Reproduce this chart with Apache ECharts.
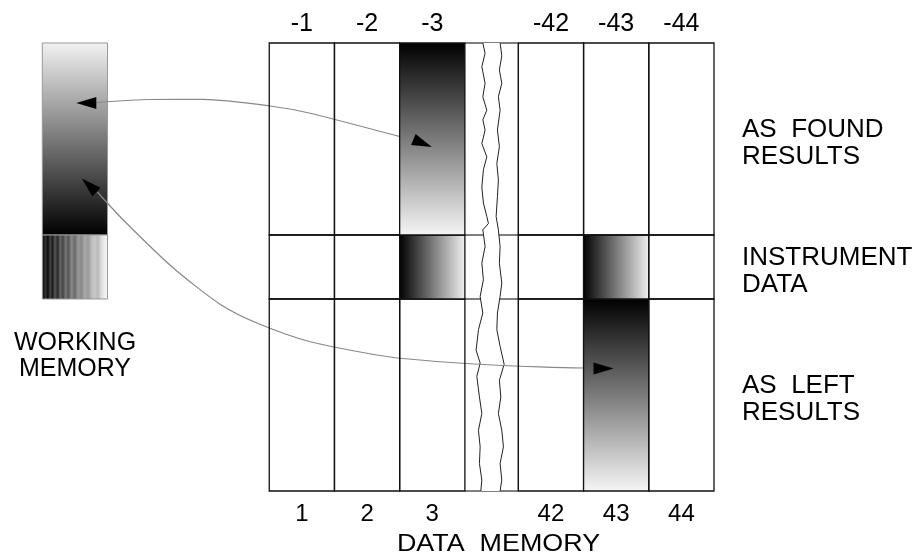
<!DOCTYPE html>
<html>
<head>
<meta charset="utf-8">
<script src="https://cdn.jsdelivr.net/npm/echarts@6/dist/echarts.min.js"></script>
<style>html,body{margin:0;padding:0;background:#fff}#c{width:920px;height:558px}</style>
</head>
<body>
<div id="c"></div>
<script>
// ---- data ----
const columnLabels = ['1', '2', '3', '42', '43', '44'];
const topColumnLabels = ['-1', '-2', '-3', '-42', '-43', '-44'];
const rowNames = ['AS  LEFT\nRESULTS', 'INSTRUMENT\nDATA', 'AS  FOUND\nRESULTS']; // bottom to top
const rowSpans = [3, 1, 3];
// shading per row (bottom to top), per column: '' none, 'down' vertical, 'right' horizontal
const asLeftShade = ['', '', '', '', 'down', ''];
const instrumentShade = ['', '', 'right', '', 'right', ''];
const asFoundShade = ['', '', 'down', '', '', ''];
const shadeRows = [asLeftShade, instrumentShade, asFoundShade];
// arrow paths in axis units
const arrowFoundPath = [[-2.651, 6.070], [-1.824, 6.117], [-1.011, 6.120], [0.015, 6.016], [0.628, 5.902], [2.008, 5.536], [2.207, 5.484]];
const arrowLeftPath = [[-2.636, 4.672], [-2.238, 4.234], [-1.471, 3.484], [-0.736, 2.906], [-0.153, 2.609], [0.644, 2.328], [1.854, 2.094], [2.912, 2.0], [4.153, 1.938], [4.812, 1.922], [4.981, 1.922]];
const arrowHeads = [[-2.805, 6.063], [2.352, 5.434], [-2.762, 4.777], [5.126, 1.914]];
const arrowHeadAngles = [90, -112, 47, -90];
// torn-edge of the break between column 3 and column 42 (axis units)
const breakLeftEdge = [[3.275,7],[3.310,6.84],[3.260,6.63],[3.310,6.37],[3.275,6.16],[3.336,5.95],[3.275,5.80],[3.310,5.64],[3.260,5.43],[3.336,5.22],[3.284,5.02],[3.260,4.75],[3.284,4.50],[3.336,4.29],[3.361,4.18],[3.275,4.08],[3.310,3.82],[3.260,3.56],[3.284,3.30],[3.234,3.04],[3.275,2.78],[3.208,2.52],[3.172,2.20],[3.234,2.00],[3.183,1.79],[3.223,1.47],[3.260,1.21],[3.208,0.95],[3.234,0.69],[3.223,0.43],[3.260,0.17],[3.244,0]];
const breakRightEdge = [[3.540,7],[3.566,6.80],[3.529,6.58],[3.566,6.37],[3.514,6.16],[3.540,5.95],[3.499,5.64],[3.529,5.38],[3.490,5.12],[3.514,4.86],[3.499,4.60],[3.479,4.29],[3.514,4.08],[3.540,3.82],[3.529,3.56],[3.566,3.25],[3.540,3.04],[3.499,2.78],[3.490,2.52],[3.540,2.26],[3.602,1.98],[3.529,1.73],[3.551,1.47],[3.514,1.21],[3.566,0.95],[3.591,0.69],[3.540,0.43],[3.566,0.17],[3.540,0]];

// ---- layout helpers ----
const GAP = 0.82;
const X_MIN = -3.5, X_MAX = 6 + GAP;
const colX = i => i + (i >= 3 ? GAP : 0);
const colCenters = columnLabels.map((_, i) => colX(i) + 0.5);
const rowStart = rowSpans.map((_, i) => rowSpans.slice(0, i).reduce((a, b) => a + b, 0));
const rowCenters = rowSpans.map((s, i) => rowStart[i] + s / 2);
const rowLabelAnchors = rowCenters.map(v => v - 0.07);
const Y_MAX = rowSpans.reduce((a, b) => a + b, 0);
const WM_X0 = -3.48;
const FONT = 'Liberation Sans';

function labelAt(v, centers, labels) {
  for (let i = 0; i < centers.length; i++) if (Math.abs(centers[i] - v) < 1e-6) return labels[i];
  return '';
}

const cellData = [];
rowSpans.forEach((s, r) => columnLabels.forEach((_, c) => cellData.push([colX(c) + 0.5, rowCenters[r]])));

function shadeFill(kind) {
  if (kind === 'down') return new echarts.graphic.LinearGradient(0, 0, 0, 1, [{offset: 0, color: '#000'}, {offset: 1, color: '#f6f6f6'}]);
  if (kind === 'right') return new echarts.graphic.LinearGradient(0, 0, 1, 0, [{offset: 0, color: '#000'}, {offset: 1, color: '#f2f2f2'}]);
  return 'none';
}

const stripeStops = [
  [0,'#555'],[0.02,'#111'],[0.06,'#333'],[0.09,'#0a0a0a'],[0.13,'#444'],[0.16,'#1a1a1a'],[0.2,'#555'],
  [0.24,'#2a2a2a'],[0.28,'#666'],[0.32,'#444'],[0.36,'#777'],[0.4,'#555'],[0.45,'#888'],[0.5,'#6a6a6a'],
  [0.55,'#999'],[0.6,'#888'],[0.65,'#aaa'],[0.7,'#999'],[0.75,'#bbb'],[0.8,'#c8c8c8'],[0.85,'#bbb'],
  [0.9,'#ddd'],[0.95,'#eee'],[1,'#fafafa']
].map(s => ({offset: s[0], color: s[1]}));

const chart = echarts.init(document.getElementById('c'), null, {renderer: 'canvas'});

const option = {
  animation: false,
  backgroundColor: '#fff',
  grid: {left: 41, right: 206, top: 43, bottom: 67},
  xAxis: [
    {
      type: 'value', position: 'bottom', min: X_MIN, max: X_MAX,
      axisLine: {show: false}, axisTick: {show: false}, splitLine: {show: false},
      axisLabel: {customValues: colCenters, formatter: v => labelAt(v, colCenters, columnLabels),
        fontSize: 24, fontFamily: FONT, color: '#000', margin: 11}
    },
    {
      type: 'value', position: 'top', min: X_MIN, max: X_MAX,
      axisLine: {show: false}, axisTick: {show: false}, splitLine: {show: false},
      axisLabel: {customValues: colCenters, formatter: v => labelAt(v, colCenters, topColumnLabels),
        fontSize: 25, fontFamily: FONT, color: '#000', margin: 6}
    }
  ],
  yAxis: {
    type: 'value', position: 'right', min: 0, max: Y_MAX,
    axisLine: {show: false}, axisTick: {show: false}, splitLine: {show: false},
    axisLabel: {customValues: rowLabelAnchors, formatter: v => labelAt(v, rowLabelAnchors, rowNames),
      fontSize: 26, lineHeight: 27, fontFamily: FONT, color: '#000', margin: 28, align: 'left'}
  },
  graphic: [
    {type: 'text', x: 75, y: 356, style: {text: 'WORKING\nMEMORY', fontSize: 25, fontFamily: FONT, fill: '#000',
      align: 'center', verticalAlign: 'middle', textAlign: 'center', textVerticalAlign: 'middle', lineHeight: 25.5}},
    {type: 'text', x: 498.5, y: 544, scaleX: 1.12, style: {text: 'DATA  MEMORY', fontSize: 24, fontFamily: FONT, fill: '#000',
      align: 'center', verticalAlign: 'middle', textAlign: 'center', textVerticalAlign: 'middle'}}
  ],
  series: [
    { // working memory block
      type: 'custom', z: 1, silent: true, coordinateSystem: 'cartesian2d',
      data: [[WM_X0 + 0.5, 4]],
      renderItem: (params, api) => {
        const a = api.coord([WM_X0, Y_MAX]), b = api.coord([WM_X0 + 1, rowStart[2]]), c = api.coord([WM_X0 + 1, rowStart[1]]);
        return {type: 'group', children: [
          {type: 'rect', shape: {x: a[0], y: a[1], width: b[0] - a[0], height: b[1] - a[1]},
            style: {fill: new echarts.graphic.LinearGradient(0, 0, 0, 1, [{offset: 0, color: '#f2f2f2'}, {offset: 1, color: '#000'}]), stroke: '#999', lineWidth: 1}},
          {type: 'rect', shape: {x: a[0], y: b[1], width: b[0] - a[0], height: c[1] - b[1]},
            style: {fill: new echarts.graphic.LinearGradient(0, 0, 1, 0, stripeStops), stroke: '#999', lineWidth: 1}}
        ]};
      }
    },
    { // break (torn gap) between column 3 and 42
      type: 'custom', z: 2, silent: true, coordinateSystem: 'cartesian2d',
      data: [[3 + GAP / 2, Y_MAX / 2]],
      renderItem: (params, api) => {
        const children = [];
        [0].concat(rowStart.slice(1), [Y_MAX]).forEach(y => {
          const p = api.coord([3, y]), q = api.coord([3 + GAP, y]);
          children.push({type: 'line', shape: {x1: p[0], y1: p[1], x2: q[0], y2: q[1]}, style: {stroke: '#555', lineWidth: 1.3}});
        });
        const L = breakLeftEdge.map(d => api.coord(d));
        const R = breakRightEdge.map(d => api.coord(d));
        children.push({type: 'polygon', shape: {points: L.concat(R.slice().reverse())}, style: {fill: '#fff', stroke: 'none'}});
        children.push({type: 'polyline', shape: {points: L}, style: {stroke: '#222', lineWidth: 1, fill: 'none'}});
        children.push({type: 'polyline', shape: {points: R}, style: {stroke: '#222', lineWidth: 1, fill: 'none'}});
        const tl = api.coord([3 + GAP, Y_MAX]), bl = api.coord([3 + GAP, 0]);
        children.push({type: 'line', shape: {x1: tl[0], y1: tl[1], x2: bl[0], y2: bl[1]}, style: {stroke: '#555', lineWidth: 1.3}});
        return {type: 'group', children};
      }
    },
    {
      type: 'line', z: 3, silent: true, data: arrowFoundPath, symbol: 'none', smooth: 0.25,
      lineStyle: {color: '#888', width: 1.2}
    },
    {
      type: 'line', z: 3, silent: true, data: arrowLeftPath, symbol: 'none', smooth: 0.25,
      lineStyle: {color: '#888', width: 1.2}
    },
    { // data memory cells
      type: 'custom', z: 4, silent: true, coordinateSystem: 'cartesian2d',
      data: cellData,
      renderItem: (params, api) => {
        const idx = params.dataIndex;
        const r = Math.floor(idx / columnLabels.length), c = idx % columnLabels.length;
        const x0 = colX(c), y0 = rowStart[r], y1 = y0 + rowSpans[r];
        const p = api.coord([x0, y1]), q = api.coord([x0 + 1, y0]);
        return {type: 'rect', shape: {x: p[0], y: p[1], width: q[0] - p[0], height: q[1] - p[1]},
          style: {fill: shadeFill(shadeRows[r][c]), stroke: '#111', lineWidth: 1.3}};
      }
    },
    { // arrow heads
      type: 'scatter', z: 5, silent: true,
      data: arrowHeads.map((p, i) => ({value: p, symbolRotate: arrowHeadAngles[i]})),
      symbol: 'triangle', symbolSize: [12, 20],
      itemStyle: {color: '#000', opacity: 1}
    }
  ]
};
chart.setOption(option);
</script>
</body>
</html>
